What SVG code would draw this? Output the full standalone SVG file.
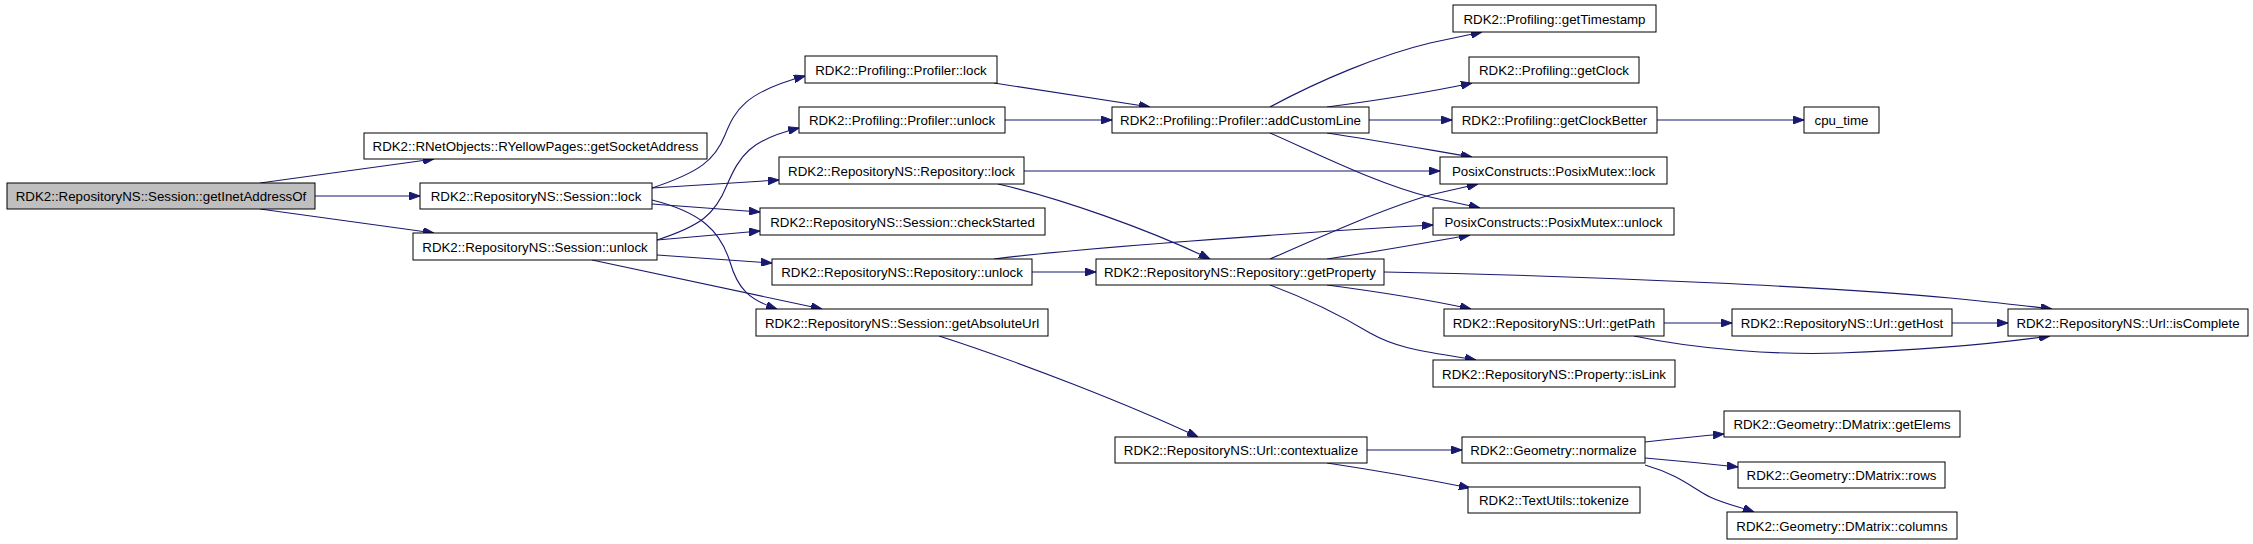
<svg xmlns="http://www.w3.org/2000/svg" width="2253" height="544" viewBox="0 0 2253 544">
<defs>
<style>
.n rect{fill:#ffffff;stroke:#000000;stroke-width:1}
.n.root rect{fill:#bfbfbf}
.n text{font-family:"Liberation Sans",Arial,sans-serif;font-size:13.3px;fill:#000000;text-anchor:middle}
#edges path{fill:none;stroke:#191970;stroke-width:1.1;marker-end:url(#arr)}
</style>
<marker id="arr" markerWidth="11" markerHeight="8" refX="11" refY="4" orient="auto" markerUnits="userSpaceOnUse">
<path d="M0,0 L11,4 L0,8 z" fill="#191970" stroke="#191970" stroke-width="1"/>
</marker>
</defs>
<rect x="0" y="0" width="2253" height="544" fill="#ffffff"/>
<g id="edges">
<path d="M260,183 L434,159"/>
<path d="M315,196 L420,196"/>
<path d="M260,209 L434,233"/>
<path d="M652,188 C700,172 715,160 725,135 C735,110 745,92 805,76"/>
<path d="M652,188 L779,180"/>
<path d="M652,204 L760,212"/>
<path d="M652,200 C700,212 720,230 730,262 C738,290 750,300 777,309"/>
<path d="M657,240 C700,226 715,215 727,185 C740,155 750,140 799,128"/>
<path d="M657,240 L760,231"/>
<path d="M657,255 L772,263"/>
<path d="M592,260 L822,309"/>
<path d="M994,83 L1150,107"/>
<path d="M1005,120 L1112,120"/>
<path d="M1024,171 L1440,171"/>
<path d="M998,184 C1060,198 1150,230 1210,259"/>
<path d="M994,259 C1060,250 1300,232 1433,225"/>
<path d="M1032,272 L1096,272"/>
<path d="M1270,107 C1320,80 1380,55 1430,43 L1482,32"/>
<path d="M1327,107 C1380,100 1430,92 1472,83"/>
<path d="M1369,120 L1452,120"/>
<path d="M1327,133 C1380,141 1430,150 1472,157"/>
<path d="M1270,133 C1320,155 1380,185 1430,197 L1480,208"/>
<path d="M1270,259 C1320,237 1380,210 1430,195 L1478,184"/>
<path d="M1327,259 C1380,251 1430,242 1470,235"/>
<path d="M1384,272 C1600,276 1850,288 1950,298 C1990,302 2020,305 2052,309"/>
<path d="M1327,285 C1380,292 1430,300 1471,309"/>
<path d="M1270,285 C1310,300 1340,315 1370,333 C1400,350 1430,352 1476,360"/>
<path d="M1657,120 L1804,120"/>
<path d="M1664,323 L1732,323"/>
<path d="M1952,323 L2008,323"/>
<path d="M1634,336 C1700,350 1780,355 1840,353 C1930,350 2000,343 2050,336"/>
<path d="M939,336 C1020,362 1130,405 1198,437"/>
<path d="M1367,450 L1462,450"/>
<path d="M1327,463 C1380,471 1420,478 1470,488"/>
<path d="M1645,442 C1680,438 1700,436 1724,434"/>
<path d="M1645,458 C1680,461 1710,464 1738,467"/>
<path d="M1645,465 C1680,475 1695,490 1710,497 C1725,504 1740,507 1754,512"/>
</g>
<g id="n1" class="n root"><rect x="7" y="183" width="308" height="26"/><text x="161" y="201">RDK2::RepositoryNS::Session::getInetAddressOf</text></g>
<g id="n2" class="n"><rect x="364" y="133" width="343" height="26"/><text x="535.5" y="151">RDK2::RNetObjects::RYellowPages::getSocketAddress</text></g>
<g id="n3" class="n"><rect x="420" y="183" width="232" height="26"/><text x="536" y="201">RDK2::RepositoryNS::Session::lock</text></g>
<g id="n4" class="n"><rect x="413" y="233" width="244" height="27"/><text x="535" y="251.5">RDK2::RepositoryNS::Session::unlock</text></g>
<g id="n5" class="n"><rect x="805" y="56" width="192" height="27"/><text x="901" y="74.5">RDK2::Profiling::Profiler::lock</text></g>
<g id="n6" class="n"><rect x="799" y="107" width="206" height="26"/><text x="902" y="125">RDK2::Profiling::Profiler::unlock</text></g>
<g id="n7" class="n"><rect x="779" y="157" width="245" height="27"/><text x="901.5" y="175.5">RDK2::RepositoryNS::Repository::lock</text></g>
<g id="n8" class="n"><rect x="760" y="208" width="285" height="27"/><text x="902.5" y="226.5">RDK2::RepositoryNS::Session::checkStarted</text></g>
<g id="n9" class="n"><rect x="772" y="259" width="260" height="26"/><text x="902" y="277">RDK2::RepositoryNS::Repository::unlock</text></g>
<g id="n10" class="n"><rect x="756" y="309" width="292" height="27"/><text x="902" y="327.5">RDK2::RepositoryNS::Session::getAbsoluteUrl</text></g>
<g id="n11" class="n"><rect x="1112" y="107" width="257" height="26"/><text x="1240.5" y="125">RDK2::Profiling::Profiler::addCustomLine</text></g>
<g id="n12" class="n"><rect x="1096" y="259" width="288" height="26"/><text x="1240" y="277">RDK2::RepositoryNS::Repository::getProperty</text></g>
<g id="n13" class="n"><rect x="1453" y="5" width="203" height="27"/><text x="1554.5" y="23.5">RDK2::Profiling::getTimestamp</text></g>
<g id="n14" class="n"><rect x="1469" y="57" width="170" height="26"/><text x="1554" y="75">RDK2::Profiling::getClock</text></g>
<g id="n15" class="n"><rect x="1452" y="107" width="205" height="26"/><text x="1554.5" y="125">RDK2::Profiling::getClockBetter</text></g>
<g id="n16" class="n"><rect x="1440" y="157" width="227" height="27"/><text x="1553.5" y="175.5">PosixConstructs::PosixMutex::lock</text></g>
<g id="n17" class="n"><rect x="1433" y="208" width="241" height="27"/><text x="1553.5" y="226.5">PosixConstructs::PosixMutex::unlock</text></g>
<g id="n18" class="n"><rect x="1444" y="309" width="220" height="27"/><text x="1554" y="327.5">RDK2::RepositoryNS::Url::getPath</text></g>
<g id="n19" class="n"><rect x="1732" y="309" width="220" height="27"/><text x="1842" y="327.5">RDK2::RepositoryNS::Url::getHost</text></g>
<g id="n20" class="n"><rect x="2008" y="309" width="240" height="27"/><text x="2128" y="327.5">RDK2::RepositoryNS::Url::isComplete</text></g>
<g id="n21" class="n"><rect x="1433" y="360" width="242" height="27"/><text x="1554" y="378.5">RDK2::RepositoryNS::Property::isLink</text></g>
<g id="n22" class="n"><rect x="1804" y="107" width="75" height="26"/><text x="1841.5" y="125">cpu_time</text></g>
<g id="n23" class="n"><rect x="1115" y="437" width="252" height="26"/><text x="1241" y="455">RDK2::RepositoryNS::Url::contextualize</text></g>
<g id="n24" class="n"><rect x="1462" y="437" width="183" height="26"/><text x="1553.5" y="455">RDK2::Geometry::normalize</text></g>
<g id="n25" class="n"><rect x="1468" y="487" width="172" height="26"/><text x="1554" y="505">RDK2::TextUtils::tokenize</text></g>
<g id="n26" class="n"><rect x="1724" y="411" width="236" height="26"/><text x="1842" y="429">RDK2::Geometry::DMatrix::getElems</text></g>
<g id="n27" class="n"><rect x="1738" y="462" width="207" height="26"/><text x="1841.5" y="480">RDK2::Geometry::DMatrix::rows</text></g>
<g id="n28" class="n"><rect x="1727" y="512" width="230" height="27"/><text x="1842" y="530.5">RDK2::Geometry::DMatrix::columns</text></g>
</svg>
